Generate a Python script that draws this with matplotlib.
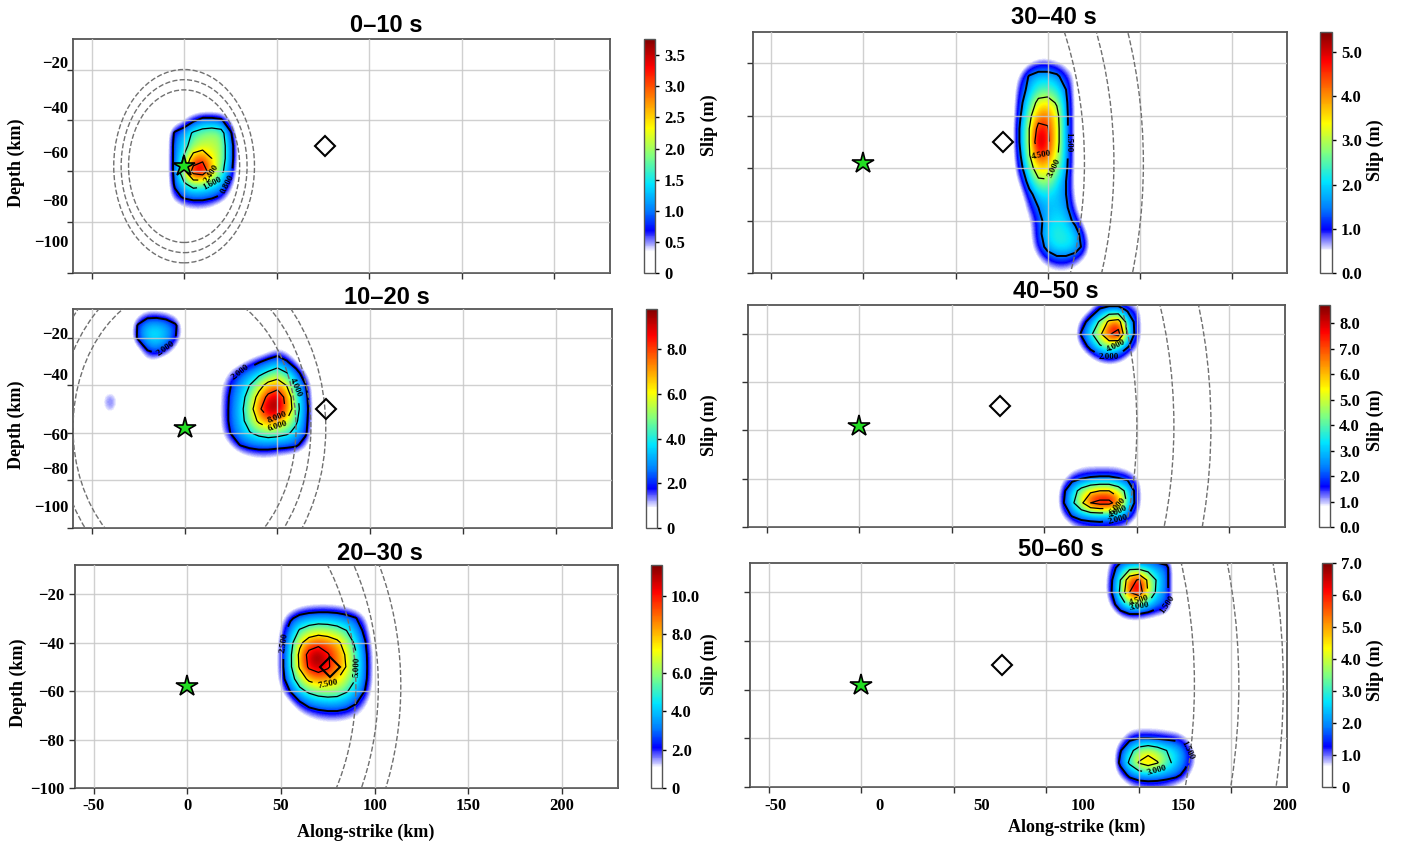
import numpy as np
import matplotlib
matplotlib.use("Agg")
import matplotlib.pyplot as plt
from matplotlib.colors import LinearSegmentedColormap
from matplotlib.patches import Circle

plt.rcParams["font.family"] = ["Liberation Serif", "DejaVu Serif"]
plt.rcParams["font.weight"] = "bold"
plt.rcParams["axes.labelweight"] = "bold"

# ---------------- data ----------------
windows = ["0–10 s", "10–20 s", "20–30 s", "30–40 s", "40–50 s", "50–60 s"]
t_end = [10, 20, 30, 40, 50, 60]
vr = [3.0, 3.4, 3.8]            # rupture front speeds (km/s)
hypo_x, hypo_z = 0, -58
sta_x, sta_z = 76, -50

# fault grid (km), 5 km cells
grid_x = np.arange(-60, 231, 5)
grid_z = np.arange(-5, -101, -5)

# 0-10 s
s1_x = [-10, -5, 0, 5, 10, 15, 20, 25, 30]
s1_z = [-35, -40, -45, -50, -55, -60, -65, -70, -75]
s1 = [[0, 0, 0, 0, 0, 0, 0, 0, 0],
      [0, 0, 0.3, 0.7, 1.0, 1.0, 0.9, 0.3, 0],
      [0, 0.9, 1.2, 1.7, 1.9, 2.0, 1.9, 0.9, 0],
      [0, 1.0, 1.4, 1.9, 2.1, 2.1, 2.0, 1.1, 0.1],
      [0, 1.0, 1.7, 2.8, 3.0, 2.4, 2.0, 1.1, 0.1],
      [0, 1.0, 2.2, 3.5, 3.76, 2.6, 1.8, 1.0, 0],
      [0, 0.9, 1.5, 1.9, 1.8, 1.6, 1.3, 0.6, 0],
      [0, 0.6, 0.9, 1.0, 1.0, 0.9, 0.7, 0.2, 0],
      [0, 0, 0.2, 0.3, 0.3, 0.2, 0, 0, 0]]

# 10-20 s
s2a_x = [20, 25, 30, 35, 40, 45, 50, 55, 60, 65, 70]
s2a_z = [-25, -30, -35, -40, -45, -50, -55, -60, -65, -70]
s2a = [[0, 0, 0, 0, 0, 0.4, 0.9, 0.6, 0, 0, 0],
       [0, 0, 0.4, 1.1, 1.8, 2.4, 2.9, 2.1, 0.9, 0, 0],
       [0.3, 1.2, 2.2, 2.9, 3.6, 4.3, 4.9, 4.1, 2.7, 1.0, 0],
       [0.8, 2.0, 3.0, 4.0, 5.3, 6.6, 7.1, 5.9, 3.9, 2.1, 0.2],
       [1.0, 2.3, 3.3, 4.7, 6.6, 8.5, 9.4, 7.3, 4.5, 2.5, 0.3],
       [1.0, 2.4, 3.5, 5.1, 7.5, 9.7, 9.8, 7.6, 4.7, 2.7, 0.3],
       [1.0, 2.4, 3.4, 4.8, 6.3, 7.3, 7.1, 5.9, 4.3, 2.5, 0.3],
       [0.8, 2.1, 3.1, 3.9, 4.5, 4.9, 4.7, 4.3, 3.5, 2.3, 0.2],
       [0.2, 1.0, 2.1, 2.5, 2.7, 2.7, 2.6, 2.5, 2.3, 1.3, 0],
       [0, 0, 0.4, 0.8, 1.0, 1.0, 0.8, 0.6, 0.4, 0, 0]]
s2b_x = [-30, -25, -20, -15, -10, -5, 0]
s2b_z = [-10, -15, -20, -25, -30]
s2b = [[0, 0.5, 1.2, 1.2, 1.0, 0.5, 0],
       [0, 2.2, 3.3, 3.5, 3.1, 2.3, 0.3],
       [0, 2.3, 3.7, 3.9, 3.3, 2.1, 0.2],
       [0, 0.4, 2.1, 2.7, 1.9, 0.6, 0],
       [0, 0, 0.7, 0.5, 0, 0, 0]]
s2c_x = [-45, -40, -35]
s2c_z = [-45, -50]
s2c = [[0.6, 1.8, 0.6],
       [0.5, 1.6, 0.5]]

# 20-30 s
s3_x = [45, 50, 55, 60, 65, 70, 75, 80, 85, 90, 95, 100, 105]
s3_z = [-20, -25, -30, -35, -40, -45, -50, -55, -60, -65, -70, -75]
s3 = [[0, 0, 0, 0, 0, 0, 0, 0, 0, 0, 0, 0, 0],
      [0, 0, 0.3, 0.8, 1.1, 1.2, 1.2, 1.1, 0.8, 0.4, 0, 0, 0],
      [0, 0.6, 2.2, 3.2, 3.6, 3.8, 3.8, 3.6, 3.2, 2.6, 1.2, 0, 0],
      [0, 1.2, 3.4, 5.2, 6.0, 6.4, 6.2, 5.8, 5.0, 3.6, 2.0, 0, 0],
      [0, 1.6, 4.2, 7.0, 8.6, 9.2, 8.8, 8.0, 6.5, 4.5, 2.6, 0.4, 0],
      [0, 1.8, 4.6, 8.0, 10.8, 11.6, 10.2, 8.8, 7.2, 5.2, 2.9, 0.6, 0],
      [0, 1.8, 4.6, 7.8, 10.4, 11.2, 10.3, 8.8, 7.4, 5.3, 3.0, 0.6, 0],
      [0, 1.6, 4.0, 6.2, 8.0, 8.6, 8.4, 7.6, 6.4, 5.0, 2.9, 0.6, 0],
      [0, 0.8, 2.6, 4.4, 5.4, 6.0, 6.2, 6.0, 5.2, 4.0, 2.4, 0.4, 0],
      [0, 0, 0.8, 2.2, 3.2, 3.6, 3.8, 3.8, 3.4, 2.6, 1.4, 0.2, 0],
      [0, 0, 0, 0.6, 1.2, 1.6, 1.8, 1.8, 1.6, 1.2, 0.5, 0, 0],
      [0, 0, 0, 0, 0.2, 0.4, 0.5, 0.5, 0.4, 0.2, 0, 0, 0]]

# 30-40 s
s4_x = [80, 85, 90, 95, 100, 105, 110, 115, 120, 125]
s4_z = [-15, -20, -25, -30, -35, -40, -45, -50, -55, -60,
        -65, -70, -75, -80, -85, -90, -95, -100]
s4 = [[0, 0, 0, 0, 0, 0, 0, 0, 0, 0],
      [0, 0, 0.4, 0.8, 0.8, 0.6, 0.3, 0.2, 0, 0],
      [0, 0.6, 1.6, 1.9, 1.9, 1.7, 1.0, 0.4, 0, 0],
      [0, 1.0, 1.8, 2.4, 2.5, 2.2, 1.5, 0.3, 0, 0],
      [0, 1.2, 2.3, 3.3, 3.4, 2.9, 1.7, 0.3, 0, 0],
      [0, 1.4, 2.7, 4.0, 4.2, 3.3, 1.8, 0.3, 0, 0],
      [0, 1.6, 3.0, 4.9, 4.6, 3.4, 1.8, 0.3, 0, 0],
      [0, 1.6, 3.0, 5.45, 4.7, 3.4, 1.8, 0.3, 0, 0],
      [0, 1.4, 2.9, 4.6, 4.3, 3.2, 1.8, 0.3, 0, 0],
      [0, 1.1, 2.5, 3.6, 3.5, 2.8, 1.7, 0.3, 0, 0],
      [0, 0.6, 1.9, 2.8, 2.9, 2.2, 1.5, 0.3, 0, 0],
      [0, 0.2, 1.2, 2.0, 2.1, 1.9, 1.5, 0.4, 0, 0],
      [0, 0, 0.8, 1.5, 1.8, 1.9, 1.7, 0.6, 0, 0],
      [0, 0, 0.4, 1.2, 1.9, 2.1, 2.0, 1.2, 0.2, 0],
      [0, 0, 0.3, 1.2, 2.1, 2.3, 2.2, 2.0, 0.8, 0],
      [0, 0, 0.2, 1.0, 1.8, 2.2, 2.2, 2.0, 1.2, 0],
      [0, 0, 0, 0.4, 0.9, 1.2, 1.2, 0.9, 0.4, 0],
      [0, 0, 0, 0, 0.2, 0.3, 0.3, 0.2, 0, 0]]

# 40-50 s
s5a_x = [115, 120, 125, 130, 135, 140, 145, 150, 155]
s5a_z = [-5, -10, -15, -20, -25, -30, -35]
s5a = [[0, 0, 0, 0.3, 0.6, 0.6, 0.3, 0, 0],
       [0, 0, 0.8, 2.2, 2.6, 2.6, 1.8, 1.2, 0],
       [0, 1.2, 2.8, 4.2, 6.4, 6.8, 3.2, 1.4, 0],
       [0, 2.2, 3.6, 5.6, 7.8, 8.72, 3.6, 1.4, 0],
       [0, 1.0, 2.6, 3.8, 4.6, 3.8, 2.2, 1.0, 0],
       [0, 0, 0.6, 1.4, 1.8, 1.4, 0.6, 0, 0],
       [0, 0, 0, 0, 0, 0, 0, 0, 0]]
s5b_x = [105, 110, 115, 120, 125, 130, 135, 140, 145, 150, 155]
s5b_z = [-75, -80, -85, -90, -95, -100]
s5b = [[0, 0, 0.4, 0.7, 0.8, 0.8, 0.8, 0.7, 0.4, 0, 0],
       [0, 0.6, 1.6, 2.0, 2.2, 2.3, 2.3, 2.1, 1.8, 1.0, 0],
       [0, 1.6, 3.2, 4.6, 5.6, 6.0, 6.0, 5.0, 3.4, 1.4, 0],
       [0, 1.8, 3.6, 5.6, 8.0, 8.6, 8.6, 7.0, 3.6, 1.4, 0],
       [0, 1.0, 2.2, 2.8, 3.0, 3.1, 3.0, 2.8, 2.2, 0.8, 0],
       [0, 0, 0.6, 0.9, 1.1, 1.2, 1.1, 0.9, 0.6, 0, 0]]

# 50-60 s
s6a_x = [130, 135, 140, 145, 150, 155, 160, 165, 170]
s6a_z = [-5, -10, -15, -20, -25, -30, -35]
s6a = [[0, 0.5, 0.8, 0.9, 0.9, 0.9, 0.8, 0.5, 0],
       [0, 1.0, 2.0, 2.6, 2.6, 2.4, 2.0, 1.8, 0],
       [0, 1.3, 3.0, 5.4, 6.2, 4.2, 2.8, 1.8, 0],
       [0, 1.4, 3.2, 6.0, 7.0, 4.4, 2.6, 1.8, 0],
       [0, 0.8, 2.4, 3.4, 3.4, 2.8, 2.0, 1.7, 0],
       [0, 0, 0.6, 1.0, 1.0, 0.8, 0.6, 0.4, 0],
       [0, 0, 0, 0, 0, 0, 0, 0, 0]]
s6b_x = [135, 140, 145, 150, 155, 160, 165, 170, 175, 180, 185]
s6b_z = [-75, -80, -85, -90, -95, -100]
s6b = [[0, 0, 0.3, 0.4, 0.4, 0.4, 0.3, 0.2, 0, 0, 0],
       [0, 0.4, 1.2, 1.5, 1.5, 1.4, 1.3, 1.2, 0.8, 0, 0],
       [0, 1.4, 2.6, 3.6, 4.0, 3.6, 3.0, 2.6, 1.8, 0.6, 0],
       [0, 1.8, 3.2, 4.6, 5.2, 4.6, 3.4, 2.6, 1.8, 0.8, 0],
       [0, 0.8, 1.8, 2.2, 2.3, 2.2, 2.0, 1.8, 1.2, 0.2, 0],
       [0, 0, 0.4, 0.7, 0.8, 0.8, 0.7, 0.4, 0.2, 0, 0]]

panels = [
    [(s1_x, s1_z, s1)],
    [(s2a_x, s2a_z, s2a), (s2b_x, s2b_z, s2b), (s2c_x, s2c_z, s2c)],
    [(s3_x, s3_z, s3)],
    [(s4_x, s4_z, s4)],
    [(s5a_x, s5a_z, s5a), (s5b_x, s5b_z, s5b)],
    [(s6a_x, s6a_z, s6a), (s6b_x, s6b_z, s6b)],
]
levels = [[0.8, 1.6, 2.4, 3.2], [2, 4, 6, 8], [2.5, 5, 7.5, 10],
          [1.5, 3, 4.5], [2, 4, 6, 8], [1.5, 3, 4.5, 6]]
cb_ticks = [[0, 0.5, 1, 1.5, 2, 2.5, 3, 3.5], [0, 2, 4, 6, 8],
            [0, 2, 4, 6, 8, 10], [0, 1, 2, 3, 4, 5],
            [0, 1, 2, 3, 4, 5, 6, 7, 8], [0, 1, 2, 3, 4, 5, 6, 7]]
cb_zero = ["0", "0", "0", "0.0", "0.0", "0"]

x_ticks = [-50, 0, 50, 100, 150, 200]
y_ticks = [-100, -80, -60, -40, -20]
y_labels = ["−20", "−40", "−60", "−80", "−100"]

# ---------------- layout (pixels) ----------------
W, H = 1404, 844
ax_box = [(73, 39, 610, 273), (73, 309, 612, 528), (75, 565, 618, 788),
          (753, 32, 1287, 273), (748, 305, 1285, 527), (750, 563, 1287, 787)]
cb_box = [(644, 39, 655, 273), (646, 309, 657, 528), (651, 565, 662, 788),
          (1320, 32, 1332, 273), (1319, 305, 1330, 527), (1322, 563, 1332, 787)]
title_xy = [(386, 25), (387, 297), (380, 553), (1054, 18), (1056, 292), (1061, 549)]
# colorbar label anchor (left edge x, centre y) in pixels
cb_lab_xy = [(701, 125), (701, 425), (701, 664),
             (1367, 150), (1367, 420), (1367, 670)]
# label positions as they appear in the original composite
ylab_pos = {0: [-16.9, -34.9, -52.5, -71.4, -87.5],
            1: [-17.9, -35.4, -60.4, -74.6, -90.8]}
xlab_pos6 = [-46, 10, 65, 120, 174, 229]


def box(l, t, r, b):
    return [l / W, 1 - b / H, (r - l) / W, (b - t) / H]


cmap = LinearSegmentedColormap.from_list("slip", [
    (0.0, "#ffffff"), (0.09, "#ffffff"), (0.18, "#0000ff"), (0.27, "#0080ff"),
    (0.38, "#00e5ff"), (0.50, "#80ff80"), (0.62, "#ffff00"), (0.75, "#ff8000"),
    (0.88, "#ff0000"), (1.0, "#800000")])

fig = plt.figure(figsize=(W / 100, H / 100), dpi=100)

for i in range(6):
    slip = np.zeros((len(grid_z), len(grid_x)))
    for px, pz, vals in panels[i]:
        ix = np.searchsorted(grid_x, px)
        iz = np.searchsorted(-grid_z, -np.asarray(pz))
        slip[np.ix_(iz, ix)] = vals

    ax = fig.add_axes(box(*ax_box[i]))
    im = ax.imshow(slip, extent=(grid_x[0] - 2.5, grid_x[-1] + 2.5,
                                 grid_z[-1] - 2.5, grid_z[0] + 2.5),
                   origin="upper", cmap=cmap, vmin=0, vmax=slip.max(),
                   interpolation="bicubic", aspect="auto", zorder=1)
    lw = [1.4] + [0.9] * (len(levels[i]) - 1)
    cs = ax.contour(grid_x, grid_z, slip, levels=levels[i], colors="k",
                    linewidths=lw, zorder=2)
    ax.clabel(cs, fmt="%1.3f", fontsize=6.5, inline=True)

    for v in vr:
        ax.add_patch(Circle((hypo_x, hypo_z), v * t_end[i], fill=False,
                            ls="--", ec="#707070", lw=1.0, zorder=3))
    ax.plot(hypo_x, hypo_z, marker="*", ms=16, mfc="#22dd22", mec="k",
            mew=1.2, zorder=5)
    ax.plot(sta_x, sta_z, marker="D", ms=10, mfc="none", mec="k",
            mew=1.5, zorder=5)

    ax.set_xlim(-60, 230)
    ax.set_ylim(-100, -8)
    ax.set_xticks(x_ticks)
    ax.set_yticks(y_ticks)
    ax.set_axisbelow(False)
    ax.grid(True, color="#c8c8c8", lw=1.0, alpha=0.85)
    ax.tick_params(direction="out", length=4, width=1, colors="#333333",
                   labelcolor="k", labelsize=12)
    for s in ax.spines.values():
        s.set_color("#555555")
        s.set_linewidth(1.3)

    left_col = i < 3
    bottom_row = i in (2, 5)

    if left_col:
        if i in ylab_pos:
            ax.tick_params(axis="y", which="major", labelleft=False)
            ax.set_yticks(ylab_pos[i], minor=True)
            ax.set_yticklabels(y_labels, minor=True)
            ax.tick_params(axis="y", which="minor", length=0, labelsize=12)
        else:
            ax.set_yticklabels(["−100", "−80", "−60", "−40", "−20"])
        ax.set_ylabel("Depth (km)", fontsize=13)
        ax.yaxis.set_label_coords(-0.089, 0.47)
    else:
        ax.tick_params(axis="y", labelleft=False)

    if bottom_row:
        if i == 5:
            ax.tick_params(axis="x", which="major", labelbottom=False)
            ax.set_xticks(xlab_pos6, minor=True)
            ax.set_xticklabels([str(t) for t in x_ticks], minor=True)
            ax.tick_params(axis="x", which="minor", length=0, labelsize=12,
                           pad=8)
            ax.set_xlabel("Along-strike (km)", fontsize=13)
            ax.xaxis.set_label_coords(0.609, -0.143)
        else:
            ax.set_xticklabels([str(t) for t in x_ticks])
            ax.set_xlabel("Along-strike (km)", fontsize=13)
            ax.xaxis.set_label_coords(0.536, -0.161)
    else:
        ax.tick_params(axis="x", labelbottom=False)

    cl, ct, cr, cbt = cb_box[i]
    cax = fig.add_axes(box(cl, ct, cr, cbt))
    cb = fig.colorbar(im, cax=cax)
    cb.set_ticks(cb_ticks[i])
    cb.set_ticklabels([cb_zero[i]] + ["%.1f" % t for t in cb_ticks[i][1:]])
    cb.outline.set_edgecolor("#555555")
    cb.outline.set_linewidth(1.0)
    cax.tick_params(labelsize=12, length=3, width=1)
    cb.set_label("Slip (m)", fontsize=13, fontweight="bold")
    lx, ly = cb_lab_xy[i]
    cax.yaxis.set_label_coords((lx - cl) / (cr - cl), (cbt - ly) / (cbt - ct))

    tx, ty = title_xy[i]
    fig.text(tx / W, 1 - ty / H, windows[i], ha="center", va="center",
             fontsize=17, fontweight="bold", family="Liberation Sans")

fig.savefig("out.png", dpi=100)
